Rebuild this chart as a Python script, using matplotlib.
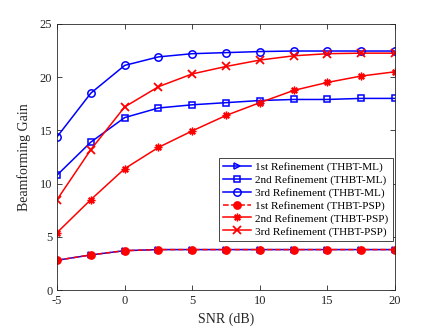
import numpy as np
import matplotlib
matplotlib.use("Agg")
import matplotlib.pyplot as plt

plt.rcParams['font.family'] = ['Liberation Serif', 'DejaVu Serif']
plt.rcParams['axes.unicode_minus'] = False

snr = [-5, -2.5, 0, 2.5, 5, 7.5, 10, 12.5, 15, 17.5, 20]

# THBT-ML
ml_1st = [2.8, 3.3, 3.7, 3.8, 3.8, 3.8, 3.8, 3.8, 3.8, 3.8, 3.8]
ml_2nd = [10.8, 13.9, 16.2, 17.1, 17.4, 17.6, 17.8, 17.9, 17.9, 18.0, 18.0]
ml_3rd = [14.4, 18.5, 21.1, 21.9, 22.2, 22.3, 22.4, 22.45, 22.45, 22.45, 22.45]

# THBT-PSP
psp_1st = [2.8, 3.3, 3.7, 3.8, 3.8, 3.8, 3.8, 3.8, 3.8, 3.8, 3.8]
psp_2nd = [5.4, 8.5, 11.4, 13.4, 14.95, 16.4, 17.6, 18.75, 19.5, 20.1, 20.5]
psp_3rd = [8.5, 13.2, 17.2, 19.1, 20.3, 21.0, 21.6, 22.0, 22.2, 22.25, 22.25]

blue = (0, 0, 1)
red = (1, 0, 0)
gray = (0.15, 0.15, 0.15)

fig = plt.figure(figsize=(4.36, 3.27), dpi=100)
ax = fig.add_axes([0.131, 0.113, 0.775, 0.814])

lw = 1.1
ax.plot(snr, ml_1st, color=blue, marker='>', lw=lw, ms=5, mfc='none', mew=1.1,
        label='1st Refinement (THBT-ML)')
ax.plot(snr, ml_2nd, color=blue, marker='s', lw=lw, ms=4.2, mfc='none', mew=1.1,
        label='2nd Refinement (THBT-ML)')
ax.plot(snr, ml_3rd, color=blue, marker='o', lw=lw, ms=5.3, mfc='none', mew=1.1,
        label='3rd Refinement (THBT-ML)')
ax.plot(snr, psp_1st, color=red, marker='o', ls='--', lw=lw, ms=5.3, mfc=red,
        label='1st Refinement (THBT-PSP)')
ax.plot(snr, psp_2nd, color=red, marker=(8, 2, 0), lw=lw, ms=5.5, mew=1.0,
        label='2nd Refinement (THBT-PSP)')
ax.plot(snr, psp_3rd, color=red, marker='x', lw=lw, ms=5.3, mew=1.3,
        label='3rd Refinement (THBT-PSP)')

ax.set_xlim(-5, 20)
ax.set_ylim(0, 25)
ax.set_xticks([-5, 0, 5, 10, 15, 20])
ax.set_yticks([0, 5, 10, 15, 20, 25])
ax.tick_params(direction='in', top=True, right=True, labelsize=9,
               colors=gray, length=3.5, width=0.6)
for s in ax.spines.values():
    s.set_color(gray)
    s.set_linewidth(0.6)

ax.set_xlabel('SNR (dB)', fontsize=10, color=gray)
ax.set_ylabel('Beamforming Gain', fontsize=10, color=gray, labelpad=6)

leg = ax.legend(loc='lower right', bbox_to_anchor=(0.993, 0.186), fontsize=8.1,
                frameon=True, fancybox=False, edgecolor=gray,
                framealpha=1, borderpad=0.35, labelspacing=0.25,
                handlelength=2.5, handletextpad=0.4, borderaxespad=0)
leg.get_frame().set_linewidth(0.6)

fig.savefig('out.png', dpi=100)
